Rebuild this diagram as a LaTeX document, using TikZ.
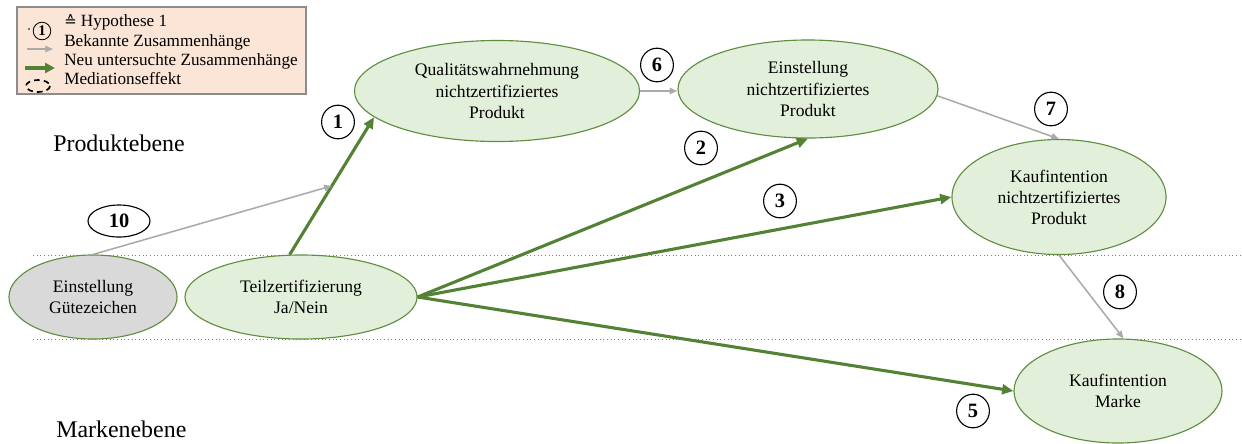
\documentclass[tikz,border=0pt]{standalone}
\usepackage{fontspec}
\setmainfont{Liberation Serif}
\newfontfamily\symfont{DejaVu Sans}
\usetikzlibrary{shapes.geometric,arrows.meta}

\definecolor{ovalfill}{RGB}{226,239,218}
\definecolor{ovalline}{RGB}{96,142,64}
\definecolor{newarrow}{RGB}{84,130,53}
\definecolor{knownarrow}{RGB}{170,170,170}
\definecolor{greyfill}{RGB}{217,217,217}
\definecolor{legendfill}{RGB}{251,229,214}
\definecolor{legendline}{RGB}{140,140,140}

\begin{document}
\begin{tikzpicture}[x=0.025cm,y=-0.025cm,
  oval/.style={ellipse, draw=ovalline, line width=0.8pt, fill=ovalfill, inner sep=0pt,
    align=center, font=\fontsize{12.5}{15}\selectfont},
  hyp/.style={ellipse, draw=black, line width=0.8pt, fill=white, inner sep=0pt,
    font=\bfseries\fontsize{14.5}{14.5}\selectfont, minimum width=0.82cm, minimum height=0.84cm},
  newlink/.style={draw=newarrow, line width=2.2pt, -{Triangle[length=8pt,width=7pt]}},
  knownlink/.style={draw=knownarrow, line width=1.1pt, -{Triangle[length=5.5pt,width=4.5pt]}},
  level/.style={draw=gray, dotted, line width=0.6pt},
  legendtext/.style={anchor=west, inner sep=0pt, font=\fontsize{12.2}{13}\selectfont},
  levellabel/.style={anchor=west, inner sep=0pt, font=\fontsize{17}{20}\selectfont}]

\useasboundingbox (0,0) rectangle (1242,443);

% level separators
\coordinate (L1a) at (33,255); \coordinate (L1b) at (1242,255);
\coordinate (L2a) at (33,339); \coordinate (L2b) at (1242,339);
\draw[level] (L1a) -- (L1b);
\draw[level] (L2a) -- (L2b);

% level labels
\node[levellabel] (prod) at (53,143) {Produktebene};
\node[levellabel] (mark) at (56,429) {Markenebene};

% constructs
\node[oval, minimum width=7.125cm, minimum height=2.525cm] (Q) at (497,91)
  {Qualitätswahrnehmung\\nichtzertifiziertes\\Produkt};
\node[oval, minimum width=6.5cm, minimum height=2.45cm] (E) at (808,89)
  {Einstellung\\nichtzertifiziertes\\Produkt};
\node[oval, minimum width=5.35cm, minimum height=2.875cm] (KP) at (1059,197)
  {Kaufintention\\nichtzertifiziertes\\Produkt};
\node[oval, minimum width=5.2cm, minimum height=2.6cm] (KM) at (1118,391)
  {Kaufintention\\Marke};
\node[oval, fill=greyfill, minimum width=4.2cm, minimum height=2.1cm] (G) at (93,297)
  {Einstellung\\Gütezeichen};
\node[oval, minimum width=5.8cm, minimum height=2.1cm] (T) at (301,297)
  {Teilzertifizierung\\Ja/Nein};

% paths
\draw[newlink] (T.105) -- (Q.192) coordinate[pos=0.5] (mid1);
\draw[newlink] (T.east) -- (E.south);
\draw[newlink] (T.east) -- (KP.west);
\draw[newlink] (T.east) -- (KM.west);
\draw[knownlink] (Q.east) -- (E.west |- Q.east);
\draw[knownlink] (E.-3) -- (KP.north);
\draw[knownlink] (KP.south) -- (KM.84);
\draw[knownlink] (G.north) -- (mid1);

% hypothesis numbers
\node[hyp] (h1) at (338,122) {1};
\node[hyp] (h6) at (657,65) {6};
\node[hyp] (h2) at (701,148) {2};
\node[hyp] (h7) at (1051,109) {7};
\node[hyp] (h3) at (780,201) {3};
\node[hyp] (h8) at (1120,292) {8};
\node[hyp] (h5) at (973,411) {5};
\node[hyp, minimum width=1.55cm, minimum height=0.8cm] (h10) at (119,221) {10};

% legend
\node[draw=legendline, fill=legendfill, line width=0.8pt, minimum width=7.225cm,
  minimum height=2.175cm, inner sep=0pt] (legend) at (161.5,50.5) {};
\fill (29,29) circle (0.8);
\node[circle, draw, line width=0.6pt, inner sep=0pt, minimum size=12.5pt,
  font=\bfseries\fontsize{10.5}{10.5}\selectfont] (legnum) at (42,31) {1};
\node[legendtext] (lt1) at (64,22) {{\symfont\fontsize{10.5}{10.5}\selectfont ≙} Hypothese 1};
\node[legendtext] (lt2) at (64,42) {Bekannte Zusammenhänge};
\node[legendtext] (lt3) at (64,61) {Neu untersuchte Zusammenhänge};
\node[legendtext] (lt4) at (64,79) {Mediationseffekt};
\coordinate (ka) at (27,49); \coordinate (kb) at (53,49);
\draw[knownlink, line width=1pt] (ka) -- (kb);
\coordinate (na) at (25,68); \coordinate (nb) at (55,68);
\draw[newlink, line width=2.4pt, -{Triangle[length=7pt,width=7pt]}] (na) -- (nb);
\begin{scope}
  \clip (17,7) rectangle (306,94);
  \draw[dashed, line width=1.2pt, dash pattern=on 4pt off 3pt] (38,86) ellipse [x radius=12, y radius=6];
\end{scope}

\end{tikzpicture}
\end{document}
